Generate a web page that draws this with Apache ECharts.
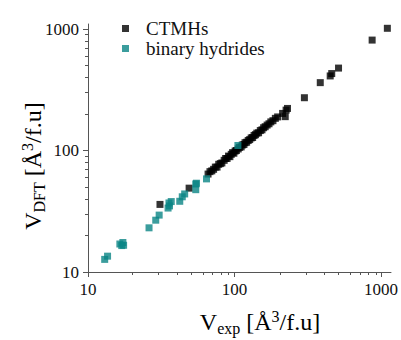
<!DOCTYPE html>
<html>
<head>
<meta charset="utf-8">
<script src="https://cdn.jsdelivr.net/npm/echarts@6/dist/echarts.min.js"></script>
<style>
  html, body { margin: 0; padding: 0; background: #fff; }
  #chart { width: 401px; height: 340px; }
</style>
</head>
<body>
<div id="chart"></div>
<script>
// CTMHs (black squares)
var ctmhX = [31, 49, 66, 68, 70, 72, 74, 76, 78, 80, 82, 85, 87, 89, 91, 93, 95, 97, 99, 101,
  103, 106, 108, 111, 113, 116, 118, 121, 124, 127, 130, 133, 136, 139, 142, 146, 150, 154,
  158, 162, 167, 172, 177, 183, 190, 197, 213, 222, 225, 230, 300, 385, 450, 461, 513, 870, 1105];
var ctmhY = [36, 49, 64, 67, 68, 70, 73, 73, 77, 78, 79, 83, 86, 86, 90, 89, 93, 96, 95, 99,
  100, 103, 106, 107, 111, 112, 116, 117, 121, 123, 127, 128, 133, 135, 139, 140, 146, 148,
  154, 157, 162, 166, 172, 176, 184, 189, 202, 190, 215, 222, 272, 362, 411, 430, 477, 811, 1014];

// binary hydrides (teal squares)
var binX = [13.0, 13.6, 16.5, 17.0, 17.3, 17.5, 26.1, 29.0, 30.6, 35.2, 36, 35.7, 37, 42.3, 44.0, 45.7, 54.4, 54.4, 55, 64.4, 105.5];
var binY = [12.7, 13.5, 17.0, 16.5, 17.5, 16.6, 23.1, 26.7, 29.4, 33.6, 35, 37, 38, 38.2, 41.6, 43.9, 53, 47.6, 53.8, 58.4, 110];

var majorTicks = [10, 100, 1000];
var minorTicks = [20, 30, 40, 50, 60, 70, 80, 90, 200, 300, 400, 500, 600, 700, 800, 900];

var serif = 'Liberation Serif';
var axisColor = '#555';
var teal = '#0a8585';

function pairs(xs, ys) {
  var out = [];
  for (var i = 0; i < xs.length; i++) out.push([xs[i], ys[i]]);
  return out;
}

// major axis draws line, labels and long ticks; the twin in grid 1 only draws the short minor ticks
function logAxis(grid, max, major) {
  return {
    type: 'log',
    logBase: 10,
    gridIndex: grid,
    min: 10,
    max: max,
    axisLine: { show: major, lineStyle: { color: axisColor, width: 1 } },
    axisTick: {
      show: true,
      inside: false,
      length: major ? 5 : 3,
      customValues: major ? majorTicks : minorTicks,
      lineStyle: { color: axisColor, width: 1 }
    },
    axisLabel: {
      show: major,
      customValues: majorTicks,
      margin: 9,
      fontFamily: serif,
      fontSize: 17,
      color: '#111',
      formatter: function (v) { return String(Math.round(v)); }
    },
    splitLine: { show: false },
    minorTick: { show: false }
  };
}

var rich = {
  m: { fontFamily: serif, fontSize: 24, color: '#111' },
  sub: { fontFamily: serif, fontSize: 16, color: '#111', padding: [12, 0, 0, 0] },
  sup: { fontFamily: serif, fontSize: 16, color: '#111', padding: [0, 0, 12, 0] }
};

var chart = echarts.init(document.getElementById('chart'), null, { renderer: 'svg' });
chart.setOption({
  animation: false,
  backgroundColor: '#fff',
  grid: [
    { left: 88, right: 8, top: 24, bottom: 68 },
    { left: 88, right: 8, top: 24, bottom: 68 }
  ],
  xAxis: [logAxis(0, 1170, true), logAxis(1, 1170, false)],
  yAxis: [logAxis(0, 1100, true), logAxis(1, 1100, false)],
  legend: {
    orient: 'vertical',
    left: 117,
    top: 14,
    itemWidth: 7,
    itemHeight: 7,
    itemGap: 1,
    textStyle: { fontFamily: serif, fontSize: 19, color: '#111', padding: [0, 0, 0, 12] },
    data: [
      { name: 'CTMHs', icon: 'rect' },
      { name: 'binary hydrides', icon: 'rect' }
    ]
  },
  series: [
    {
      name: 'CTMHs',
      type: 'scatter',
      symbol: 'rect',
      symbolSize: 7,
      itemStyle: { color: '#000' },
      data: pairs(ctmhX, ctmhY)
    },
    {
      name: 'binary hydrides',
      type: 'scatter',
      symbol: 'rect',
      symbolSize: 7,
      itemStyle: { color: teal },
      data: pairs(binX, binY)
    }
  ],
  graphic: [
    {
      type: 'text',
      x: 260,
      y: 322,
      style: {
        text: '{m|V}{sub|exp}{m| [Å}{sup|3}{m|/f.u]}',
        rich: rich,
        align: 'center',
        verticalAlign: 'middle'
      }
    },
    {
      type: 'text',
      x: 33,
      y: 166,
      rotation: Math.PI / 2,
      style: {
        text: '{m|V}{sub|DFT}{m| [Å}{sup|3}{m|/f.u]}',
        rich: rich,
        align: 'center',
        verticalAlign: 'middle'
      }
    }
  ]
});
</script>
</body>
</html>
